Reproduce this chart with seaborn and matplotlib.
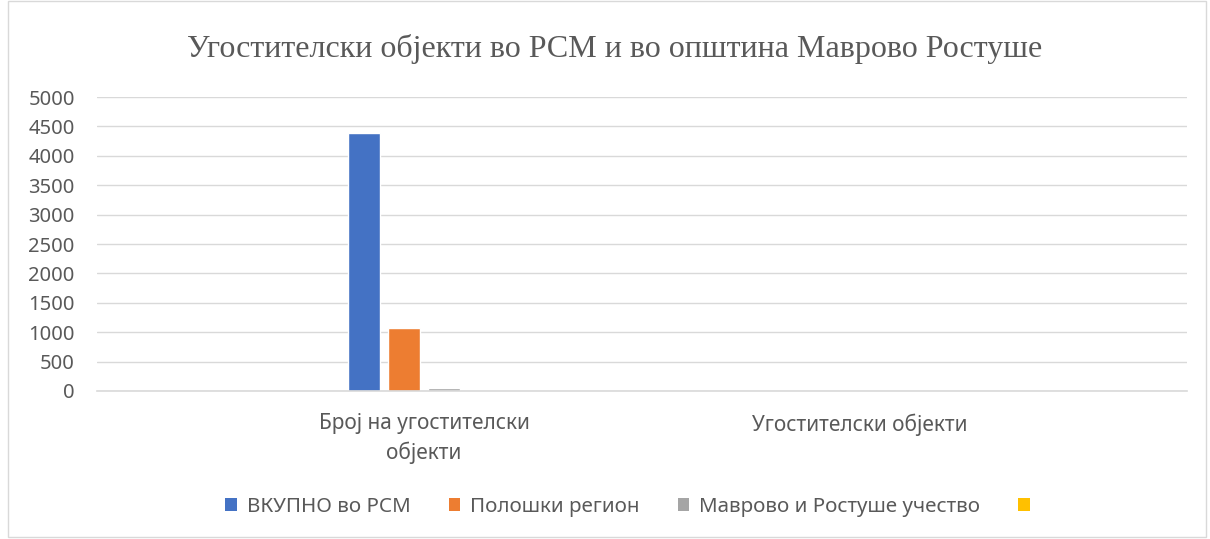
import matplotlib
matplotlib.use('Agg')
import matplotlib.pyplot as plt
import seaborn as sns
import pandas as pd
from matplotlib.patches import Patch, Rectangle

# Data
kategorii = ['Број на угостителски\nобјекти', 'Угостителски објекти']
serii = ['ВКУПНО во РСМ', 'Полошки регион', 'Маврово и Ростуше учество', ' ']
vrednosti = {
    'ВКУПНО во РСМ': [4380, 0],
    'Полошки регион': [1075, 0],
    'Маврово и Ростуше учество': [45, 0],
    ' ': [0, 0],
}
boi = ['#4472C4', '#ED7D31', '#A5A5A5', '#FFC000']
y_ticks = [0, 500, 1000, 1500, 2000, 2500, 3000, 3500, 4000, 4500, 5000]

rows = []
for s in serii:
    for k, v in zip(kategorii, vrednosti[s]):
        rows.append({'Категорија': k, 'Серија': s, 'Вредност': v})
df = pd.DataFrame(rows)

sns.set_style('white')
plt.rcParams['font.family'] = ['Noto Sans', 'DejaVu Sans']

fig = plt.figure(figsize=(12.1, 5.39), dpi=100)
ax = fig.add_axes([0.0802, 0.2746, 0.9008, 0.5454])

sns.barplot(data=df, x='Категорија', y='Вредност', hue='Серија', hue_order=serii,
            order=kategorii, palette=boi, width=0.367, gap=0.2, saturation=1,
            legend=False, ax=ax)

ax.set_xlim(-0.75, 1.75)
ax.set_ylim(0, 5000)
ax.set_yticks(y_ticks)
ax.set_yticklabels([str(t) for t in y_ticks])
ax.yaxis.grid(True, color='#D9D9D9', linewidth=1)
ax.set_axisbelow(True)
for sp in ['top', 'right', 'left']:
    ax.spines[sp].set_visible(False)
ax.spines['bottom'].set_color('#D9D9D9')
ax.spines['bottom'].set_linewidth(1.2)
ax.tick_params(axis='both', length=0, colors='#595959', labelsize=14.5)
ax.tick_params(axis='x', pad=16, labelsize=15)
ax.tick_params(axis='y', pad=16)
for lbl in ax.get_xticklabels():
    lbl.set_linespacing(1.4)
ax.set_xlabel('')
ax.set_ylabel('')

fig.text(0.508, 0.909, 'Угостителски објекти во РСМ и во општина Маврово Ростуше',
         ha='center', va='center', fontsize=23, color='#595959',
         family=['Liberation Serif', 'DejaVu Serif'])

handles = [Patch(facecolor=c, edgecolor='none') for c in boi]
fig.legend(handles, serii, loc='center', bbox_to_anchor=(0.525, 0.06), ncol=4,
           frameon=False, fontsize=14.8, handlelength=0.55, handleheight=0.55,
           handletextpad=0.5, columnspacing=1.85, labelcolor='#595959')

fig.patches.append(Rectangle((0.007, 0.003), 0.99, 0.995, transform=fig.transFigure,
                             fill=False, edgecolor='#D9D9D9', linewidth=1))

fig.savefig('out.png', dpi=100)
